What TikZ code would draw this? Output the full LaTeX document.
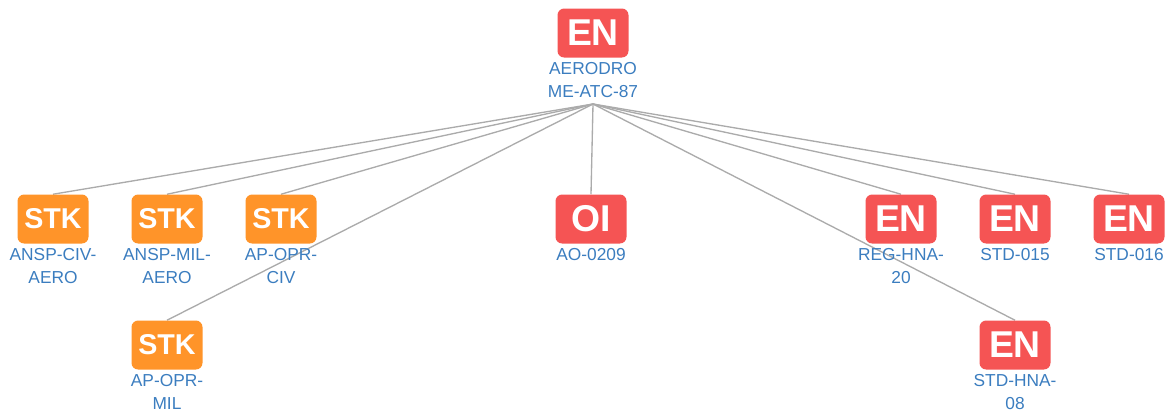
\documentclass[tikz,border=0pt]{standalone}
\usepackage{fontspec}
\setmainfont{Liberation Sans}
\usetikzlibrary{positioning,backgrounds}
\definecolor{enred}{HTML}{F55454}
\definecolor{stkorange}{HTML}{FF9429}
\definecolor{lblblue}{HTML}{3B7DBF}
\definecolor{edgegray}{HTML}{ABABAB}

\begin{document}
\begin{tikzpicture}[
  x=0.75pt, y=-0.75pt,
  enbox/.style={fill=enred, rounded corners=5pt, text=white, inner sep=0pt,
    minimum width=53.25pt, minimum height=36.75pt,
    font=\bfseries\fontsize{28}{30}\selectfont},
  stkbox/.style={enbox, fill=stkorange, font=\bfseries\fontsize{21.5}{24}\selectfont},
  lbl/.style={text=lblblue, align=center, inner sep=0pt,
    font=\fontsize{13}{17.25}\selectfont},
  link/.style={draw=edgegray, line width=1pt}
]
  \useasboundingbox (0,0) rectangle (1171,412);

  \node[enbox] (aero) at (593,33) {EN};
  \node[lbl, below=3.5pt of aero] (aeroL) {AERODRO\\ME-ATC-87};
  \coordinate (hub) at (593,104);

  \node[stkbox] (civ) at (53,219) {STK};
  \node[stkbox] (mil) at (167,219) {STK};
  \node[stkbox] (oprciv) at (281,219) {STK};
  \node[stkbox] (oprmil) at (167,345) {STK};
  \node[enbox] (ao) at (591,219) {OI};
  \node[enbox] (reg) at (901,219) {EN};
  \node[enbox] (std15) at (1015,219) {EN};
  \node[enbox] (std16) at (1129,219) {EN};
  \node[enbox] (hna) at (1015,345) {EN};

  \node[lbl, below=3.5pt of civ] {ANSP-CIV-\\AERO};
  \node[lbl, below=3.5pt of mil] {ANSP-MIL-\\AERO};
  \node[lbl, below=3.5pt of oprciv] {AP-OPR-\\CIV};
  \node[lbl, below=3.5pt of oprmil] {AP-OPR-\\MIL};
  \node[lbl, below=3.5pt of ao] {AO-0209};
  \node[lbl, below=3.5pt of reg] {REG-HNA-\\20};
  \node[lbl, below=3.5pt of std15] {STD-015};
  \node[lbl, below=3.5pt of std16] {STD-016};
  \node[lbl, below=3.5pt of hna] {STD-HNA-\\08};

  \begin{scope}[on background layer]
    \foreach \n in {civ,mil,oprciv,oprmil,ao,reg,std15,std16,hna}
      \path[link] (hub) -- (\n.north);
  \end{scope}
\end{tikzpicture}
\end{document}
